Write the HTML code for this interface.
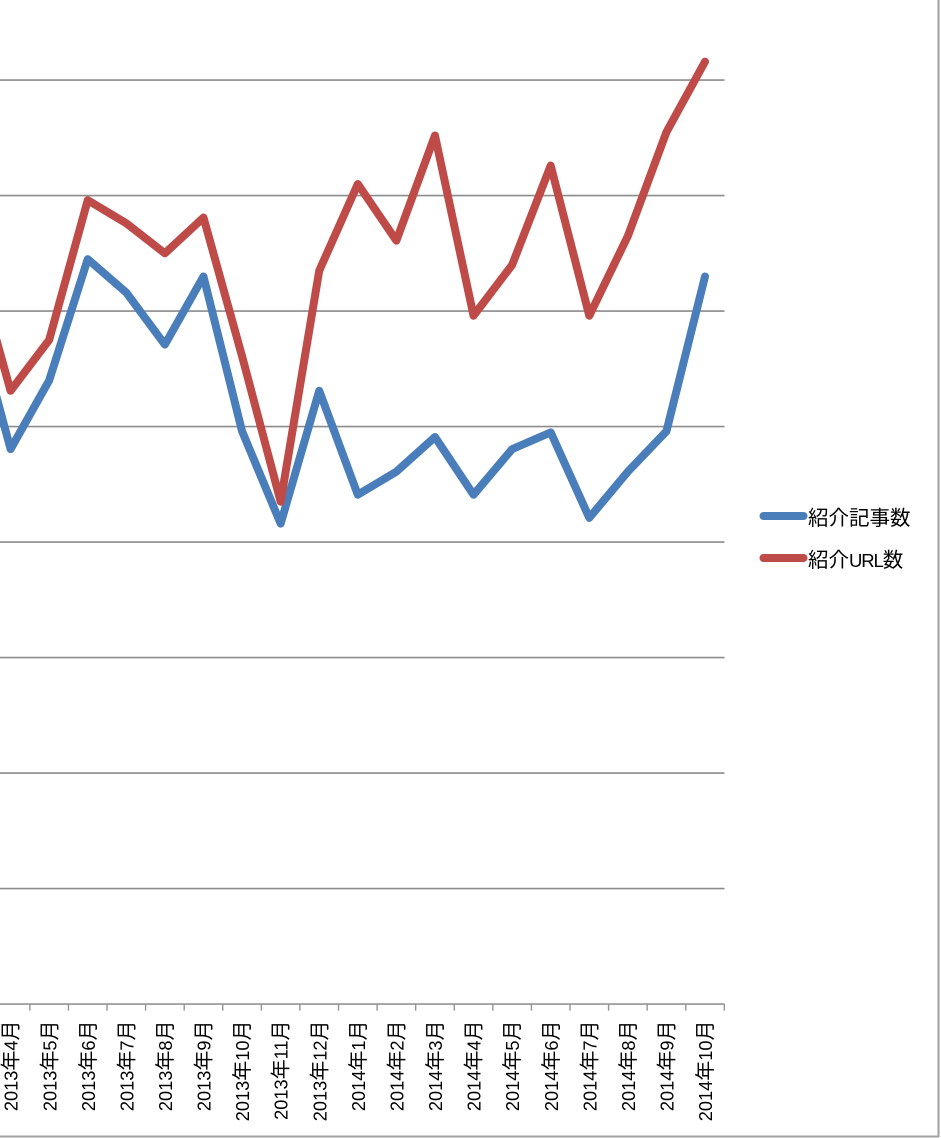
<!DOCTYPE html>
<html>
<head>
<meta charset="utf-8">
<style>
html,body{margin:0;padding:0;background:#fff;}
svg{display:block;}
text{font-family:"Liberation Sans","Noto Sans CJK JP",sans-serif;fill:#000;}
</style>
</head>
<body>
<svg id="chart" xmlns="http://www.w3.org/2000/svg" width="941" height="1138" viewBox="0 0 941 1138">
<rect x="0" y="0" width="941" height="1138" fill="#ffffff"/>
<line x1="938.5" y1="0" x2="938.5" y2="1137" stroke="#a0a0a0" stroke-width="2"/>
<line x1="0" y1="1136.5" x2="939" y2="1136.5" stroke="#a0a0a0" stroke-width="2"/>
<g id="grid"></g>
<g id="ticks"></g>
<g id="labels"></g>
<g id="series"></g>
<g id="legend"></g>
</svg>
<script>
const categories = [
  "2013年3月","2013年4月","2013年5月","2013年6月","2013年7月","2013年8月","2013年9月","2013年10月","2013年11月","2013年12月",
  "2014年1月","2014年2月","2014年3月","2014年4月","2014年5月","2014年6月","2014年7月","2014年8月","2014年9月","2014年10月"
];
const articleCounts = [60.4,48.05,54.0,64.5,61.6,57.1,63.0,49.6,41.6,53.1,44.1,46.1,49.1,44.1,48.05,49.5,42.1,46.1,49.6,63.0];
const urlCounts = [65.1,53.1,57.5,69.6,67.6,65.0,68.1,56.1,43.5,63.5,71.0,66.1,75.2,59.6,64.0,72.6,59.6,66.5,75.5,81.6];
const gridValues = [0,10,20,30,40,50,60,70,80];
const seriesNames = ["紹介記事数","紹介URL数"];

const NS = "http://www.w3.org/2000/svg";
const plotBottom = 1004.1, unitHeight = 11.55;
const firstCenter = -28.0, catWidth = 38.58;
function xScale(i){ return firstCenter + i * catWidth; }
function yScale(v){ return plotBottom - v * unitHeight; }
function mk(tag, attrs, parent){
  const el = document.createElementNS(NS, tag);
  for (const k in attrs) el.setAttribute(k, attrs[k]);
  parent.appendChild(el);
  return el;
}
function fillMixed(t, text, cjkSize, latinSize, latinSpacing){
  text.split(/(?<=[^\x00-\x7f])|(?=[^\x00-\x7f])/).forEach(function(part){
    const s = mk("tspan", {}, t);
    const isCjk = /[^\x00-\x7f]/.test(part);
    s.setAttribute("font-size", isCjk ? cjkSize : latinSize);
    if (!isCjk) s.setAttribute("letter-spacing", latinSpacing);
    s.textContent = part;
  });
}

const grid = document.getElementById("grid");
gridValues.forEach(function(v){
  const ln = mk("line", {x1:0, x2:724.5, y1:yScale(v), y2:yScale(v), stroke: v === 0 ? "#949494" : "#8c8c8c", "stroke-width":1.6}, grid);
  
  
});

const ticks = document.getElementById("ticks");
categories.forEach(function(c, i){
  const tx = xScale(i) + catWidth / 2;
  if (tx < 0) return;
  const t = mk("line", {x1:tx, x2:tx, y1:plotBottom, y2:plotBottom + 6.5, stroke:"#949494", "stroke-width":1.4}, ticks);
  
  
});

const labels = document.getElementById("labels");
categories.forEach(function(c, i){
  const lx = xScale(i) + 7.1;
  if (lx < -10) return;
  const t = mk("text", {transform:"translate(" + lx + ",1020.5) rotate(-90)", "text-anchor":"end"}, labels);
  
  
  fillMixed(t, c, "20", "18.2", "0");
});

const seriesGroup = document.getElementById("series");
function pts(arr){ return arr.map(function(v, i){ return xScale(i).toFixed(2) + "," + yScale(v).toFixed(2); }).join(" "); }
const blue = mk("polyline", {points:pts(articleCounts), fill:"none", stroke:"#4a7ebb", "stroke-width":8, "stroke-linejoin":"round", "stroke-linecap":"round"}, seriesGroup);


const red = mk("polyline", {points:pts(urlCounts), fill:"none", stroke:"#be4b48", "stroke-width":8, "stroke-linejoin":"round", "stroke-linecap":"round"}, seriesGroup);



const legend = document.getElementById("legend");
const legendColors = ["#4a7ebb","#be4b48"];
const legendRows = [516, 558];
seriesNames.forEach(function(n, i){
  const s = mk("line", {x1:763.5, x2:803.5, y1:legendRows[i], y2:legendRows[i], stroke:legendColors[i], "stroke-width":8, "stroke-linecap":"round"}, legend);
  
  
  const t = mk("text", {x:808, y:legendRows[i] + 9}, legend);
  
  
  fillMixed(t, n, "20.5", "18.5", "-1.1");
});
</script>
</body>
</html>
